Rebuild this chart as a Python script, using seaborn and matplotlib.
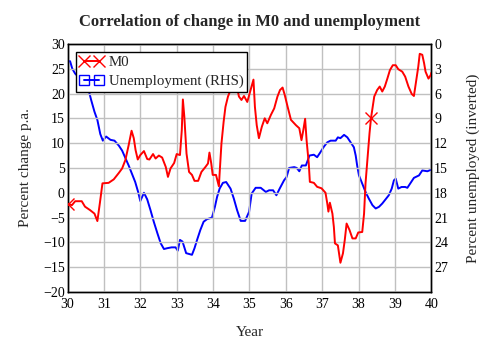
import numpy as np
import pandas as pd
import seaborn as sns
import matplotlib.pyplot as plt
from matplotlib.lines import Line2D

# M0, percent change p.a. (left axis)
m0_year = [30.00, 30.12, 30.21, 30.39, 30.48, 30.62, 30.74, 30.82, 30.89, 30.96,
           31.13, 31.27, 31.41, 31.50, 31.59, 31.68, 31.76, 31.82, 31.87, 31.93,
           32.00, 32.10, 32.19, 32.25, 32.35, 32.42, 32.51, 32.60, 32.70, 32.76,
           32.83, 32.93, 33.00, 33.09, 33.14, 33.17, 33.21, 33.27, 33.34, 33.42,
           33.49, 33.59, 33.68, 33.79, 33.86, 33.90, 33.95, 33.99, 34.08, 34.16,
           34.18, 34.23, 34.29, 34.34, 34.41, 34.48, 34.53, 34.62, 34.71, 34.78,
           34.85, 34.94, 35.03, 35.11, 35.15, 35.20, 35.26, 35.34, 35.42, 35.49,
           35.59, 35.68, 35.77, 35.84, 35.91, 35.97, 36.05, 36.14, 36.28, 36.37,
           36.43, 36.48, 36.53, 36.57, 36.63, 36.66, 36.77, 36.86, 36.98, 37.09,
           37.14, 37.17, 37.21, 37.28, 37.32, 37.35, 37.43, 37.50, 37.57, 37.62,
           37.67, 37.75, 37.83, 37.92, 37.99, 38.10, 38.15, 38.19, 38.25, 38.30,
           38.34, 38.38, 38.43, 38.51, 38.58, 38.65, 38.72, 38.79, 38.86, 38.94,
           39.02, 39.09, 39.20, 39.28, 39.37, 39.46, 39.52, 39.57, 39.64, 39.68,
           39.75, 39.80, 39.84, 39.92, 39.98, 40.00]
m0_value = [-2.2, -2.5, -1.7, -1.7, -2.8, -3.5, -4.2, -5.7, -2.0, 1.9,
            2.0, 2.7, 4.0, 4.9, 6.6, 9.6, 12.5, 11.0, 8.6, 6.7,
            7.6, 8.4, 6.8, 6.7, 7.8, 6.9, 7.5, 7.1, 5.2, 3.2,
            4.9, 6.0, 7.8, 7.6, 12.6, 18.8, 15.3, 7.9, 4.2, 3.6,
            2.4, 2.4, 4.2, 5.2, 5.9, 8.1, 5.9, 3.6, 3.6, 1.3,
            3.9, 9.9, 14.3, 17.3, 19.4, 20.7, 22.0, 22.7, 19.4, 18.7,
            19.5, 18.3, 20.7, 22.8, 17.3, 13.6, 11.0, 13.3, 15.0, 14.0,
            15.7, 17.0, 19.4, 20.7, 21.2, 19.7, 17.3, 14.7, 13.6, 13.0,
            10.6, 12.6, 14.9, 10.6, 5.9, 2.2, 2.0, 1.2, 0.9, 0.0,
            -2.2, -3.8, -2.0, -4.2, -6.9, -10.2, -10.6, -14.1, -12.2, -9.5,
            -6.2, -7.5, -9.2, -9.2, -8.0, -7.9, -4.2, 1.9, 7.3, 12.0,
            15.0, 17.0, 19.4, 20.7, 21.4, 20.4, 21.4, 23.0, 24.7, 25.7,
            25.7, 24.9, 24.4, 23.4, 21.4, 19.9, 19.5, 22.0, 25.4, 28.0,
            27.8, 26.1, 24.4, 23.0, 23.7, 24.2]

# Unemployment, percent (right axis, inverted)
un_year = [30.00, 30.07, 30.13, 30.21, 30.30, 30.39, 30.48, 30.58, 30.65, 30.74,
           30.82, 30.90, 30.97, 31.06, 31.18, 31.29, 31.41, 31.50, 31.59, 31.68,
           31.77, 31.86, 31.94, 32.00, 32.10, 32.19, 32.28, 32.37, 32.47, 32.56,
           32.65, 32.74, 32.86, 32.97, 33.03, 33.09, 33.16, 33.26, 33.42, 33.49,
           33.56, 33.65, 33.74, 33.83, 33.97, 34.05, 34.11, 34.18, 34.27, 34.36,
           34.48, 34.57, 34.66, 34.76, 34.88, 34.99, 35.06, 35.17, 35.31, 35.45,
           35.54, 35.65, 35.74, 35.83, 35.95, 36.02, 36.09, 36.23, 36.30, 36.37,
           36.44, 36.55, 36.65, 36.77, 36.86, 36.95, 37.05, 37.14, 37.23, 37.37,
           37.43, 37.50, 37.60, 37.69, 37.78, 37.87, 37.92, 37.96, 38.01, 38.10,
           38.19, 38.28, 38.38, 38.47, 38.56, 38.65, 38.74, 38.83, 38.91, 38.97,
           39.02, 39.09, 39.18, 39.28, 39.34, 39.43, 39.52, 39.66, 39.75, 39.89,
           40.00]
un_value = [2.1, 2.1, 3.0, 3.6, 4.0, 4.4, 4.8, 5.6, 6.8, 8.2,
            9.2, 10.9, 11.7, 11.2, 11.6, 11.7, 12.3, 12.9, 13.8, 14.7,
            15.7, 16.7, 17.9, 19.0, 18.0, 18.8, 20.1, 21.5, 22.9, 24.1,
            24.8, 24.7, 24.6, 24.6, 25.0, 23.7, 23.9, 25.3, 25.5, 24.7,
            23.7, 22.5, 21.5, 21.2, 21.0, 19.7, 18.5, 17.5, 16.8, 16.7,
            17.5, 18.7, 20.1, 21.4, 21.4, 20.3, 18.1, 17.4, 17.4, 17.9,
            17.7, 17.7, 18.3, 17.5, 16.5, 16.1, 15.0, 14.9, 15.0, 15.4,
            14.7, 14.7, 13.5, 13.4, 13.7, 13.1, 12.4, 11.9, 11.7, 11.7,
            11.3, 11.4, 11.0, 11.3, 11.9, 12.5, 13.5, 14.7, 15.9, 16.9,
            17.9, 18.7, 19.5, 19.9, 19.7, 19.3, 18.8, 18.3, 17.5, 16.5,
            16.3, 17.5, 17.3, 17.3, 17.4, 16.8, 16.2, 15.9, 15.3, 15.4,
            15.2]

left_ticks = list(range(-20, 31, 5))
right_ticks = list(range(0, 28, 3))
year_ticks = list(range(30, 41))

sns.set_style("whitegrid")
plt.rcParams["font.family"] = ["Liberation Serif", "DejaVu Serif"]

df_m0 = pd.DataFrame({"year": m0_year, "value": m0_value})
df_un = pd.DataFrame({"year": un_year, "value": un_value})

fig = plt.figure(figsize=(4.93, 3.51), dpi=100)
ax = fig.add_axes([0.137, 0.168, 0.738, 0.707])
ax2 = ax.twinx()

sns.lineplot(data=df_m0, x="year", y="value", ax=ax, color="#ff0000",
             linewidth=1.4, zorder=3)
sns.lineplot(data=df_un, x="year", y="value", ax=ax2, color="#0000ff",
             linewidth=1.4, zorder=3)

# sparse markers on the M0 line, as in the original
m0_line = ax.lines[0]
m0_line.set_marker("x")
m0_line.set_markersize(8)
m0_line.set_markeredgewidth(1.0)
m0_line.set_markeredgecolor("#ff0000")
m0_line.set_markevery([0, m0_year.index(38.34)])
m0_line.set_clip_on(True)
m0_line.set_clip_box(ax.bbox)

ax.set_xlim(30, 40)
ax.set_ylim(-20, 30)
ax2.set_ylim(30, 0)
ax.set_xticks(year_ticks)
ax.set_yticks(left_ticks)
ax2.set_yticks(right_ticks)

ax.grid(True, color="#c0c0c0", linewidth=1.0)
ax2.grid(False)
for a in (ax, ax2):
    a.tick_params(length=0, labelsize=10, colors="black", pad=2)
    for s in a.spines.values():
        s.set_color("black")
        s.set_linewidth(1.0)
ax.tick_params(axis="x", pad=4)

ax.set_xlabel("Year", fontsize=11, labelpad=11)
ax.set_ylabel("Percent change p.a.", fontsize=11, labelpad=8)
ax2.set_ylabel("Percent unemployed (inverted)", fontsize=11, labelpad=13)
ax.set_title("Correlation of change in M0 and unemployment",
             fontsize=12, fontweight="bold", pad=13)

handles = [
    Line2D([], [], color="#ff0000", linewidth=1.4, marker="x", markersize=8),
    Line2D([], [], color="#0000ff", linewidth=1.4, marker="s", markersize=7,
           markerfacecolor="none"),
]
leg = ax.legend(handles, ["M0", "Unemployment (RHS)"], loc="upper left",
                bbox_to_anchor=(0.023, 0.968), numpoints=2, fontsize=10.7,
                frameon=True, fancybox=False, framealpha=1, edgecolor="black",
                borderpad=0.25, handlelength=1.6, handletextpad=0.35,
                labelspacing=0.4, borderaxespad=0)
leg.get_frame().set_linewidth(1.0)
leg.set_zorder(5)
ax.set_zorder(ax2.get_zorder() + 1)
ax.patch.set_visible(False)

fig.savefig("out.png", dpi=100)
